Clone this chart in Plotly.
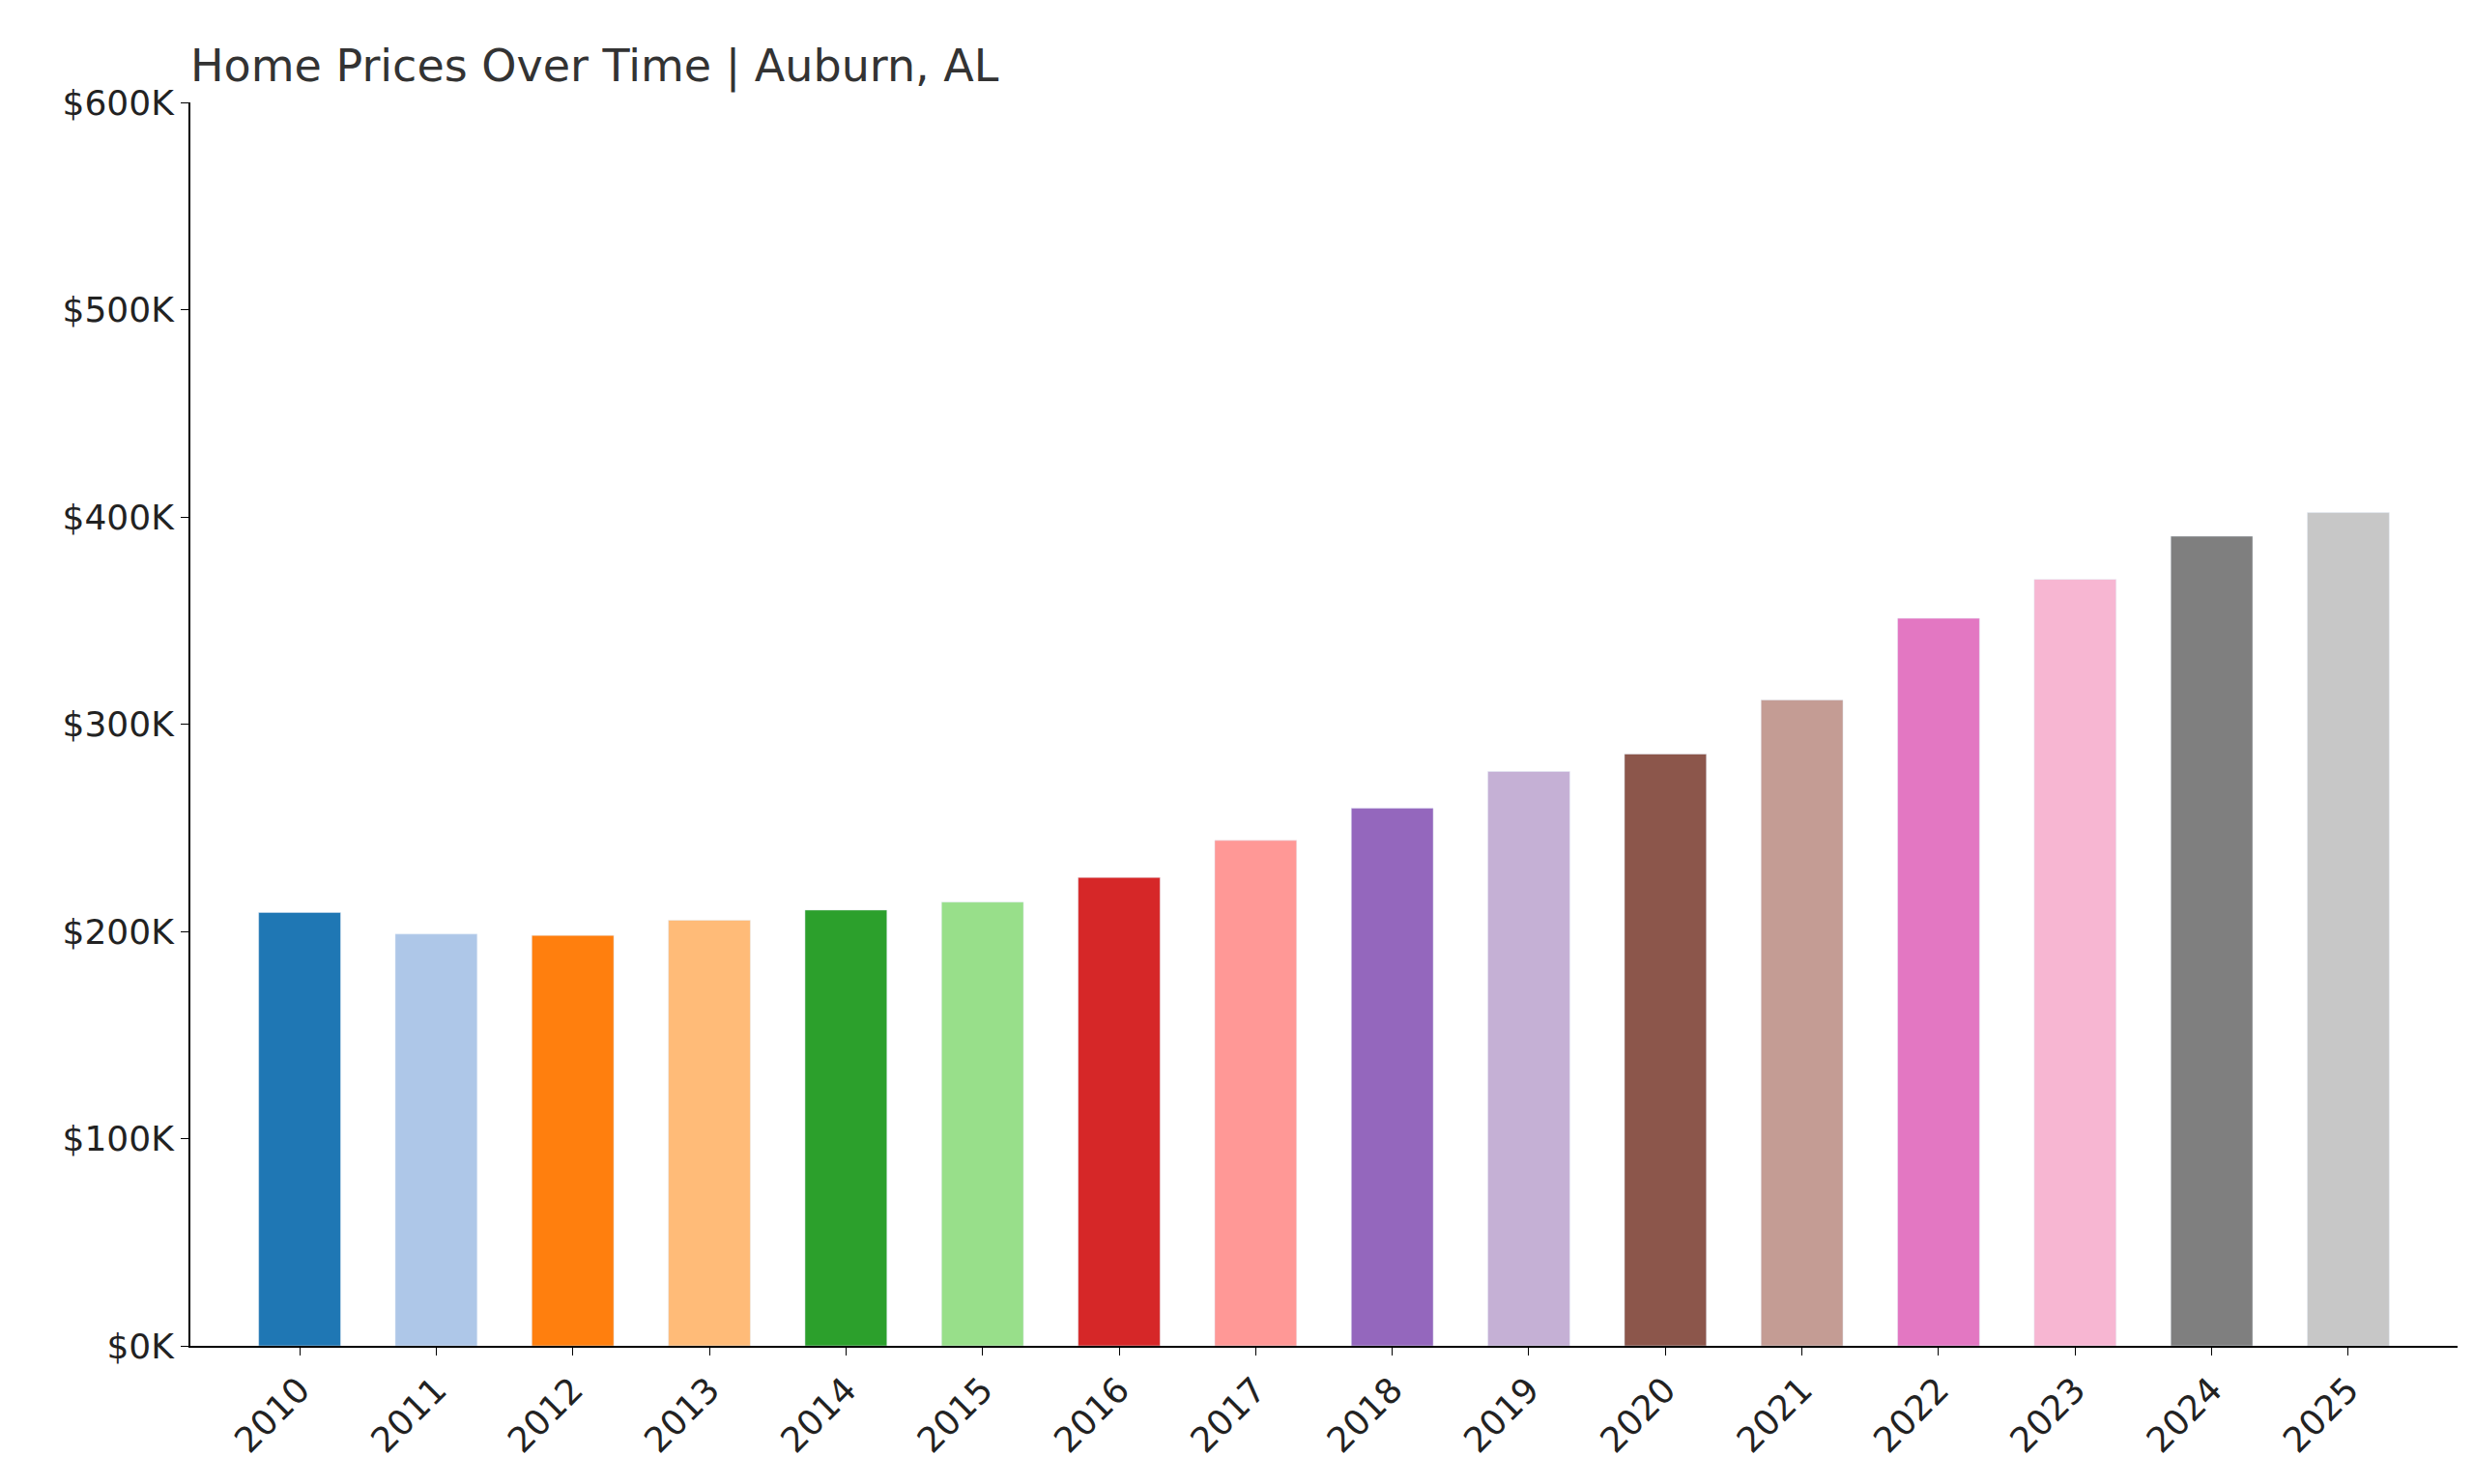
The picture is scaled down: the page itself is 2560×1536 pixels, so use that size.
import plotly.graph_objects as go

years = [str(y) for y in range(2010, 2026)]
prices = [209123, 198708, 198055, 205385, 210299, 214130, 226021, 243889, 259401,
          277161, 285576, 311622, 351078, 369864, 390679, 402071]
changes = [None, "-4.98%", "-0.33%", "+3.70%", "+2.39%", "+1.82%", "+5.55%", "+7.91%",
           "+6.36%", "+6.85%", "+3.04%", "+9.12%", "+12.66%", "+5.35%", "+5.63%", "+2.92%"]
colors = ["#1f77b4", "#aec7e8", "#ff7f0e", "#ffbb78", "#2ca02c", "#98df8a", "#d62728", "#ff9896",
          "#9467bd", "#c5b0d5", "#8c564b", "#c49c94", "#e377c2", "#f7b6d2", "#7f7f7f", "#c7c7c7"]
yticks = [0, 100000, 200000, 300000, 400000, 500000, 600000]
yticklabels = ["$0K", "$100K", "$200K", "$300K", "$400K", "$500K", "$600K"]

fig = go.Figure(go.Bar(x=years, y=prices, marker_color=colors, width=0.6))

for yr, p, c in zip(years, prices, changes):
    txt = f"${p:,}" if c is None else f"${p:,}<br>{c}"
    fig.add_annotation(x=yr, y=p, text=txt, textangle=-90, showarrow=False,
                       xanchor="center", yanchor="bottom", yshift=6, align="left",
                       font=dict(family="DejaVu Sans", size=25, color="#333"))

fig.update_layout(
    width=2560, height=1536, plot_bgcolor="white", paper_bgcolor="white",
    margin=dict(l=189, r=25, t=98, b=151),
    font=dict(family="DejaVu Sans", color="#222"),
    title=dict(text="Home Prices Over Time | Auburn, AL", x=189/2560, xanchor="left",
               y=1-60/1536, yanchor="middle", font=dict(size=46, color="#333")),
    showlegend=False,
)
fig.update_xaxes(type="category", range=[-0.8, 15.8], tickangle=-45, tickfont=dict(size=36),
                 showline=True, linecolor="black", linewidth=2, ticks="outside", ticklen=8,
                 tickcolor="black")
fig.update_yaxes(range=[0, 600000], tickvals=yticks, ticktext=yticklabels, tickfont=dict(size=36),
                 showline=True, linecolor="black", linewidth=2, ticks="outside", ticklen=8,
                 tickcolor="black", showgrid=False, zeroline=False)
fig.write_html("out.html")
